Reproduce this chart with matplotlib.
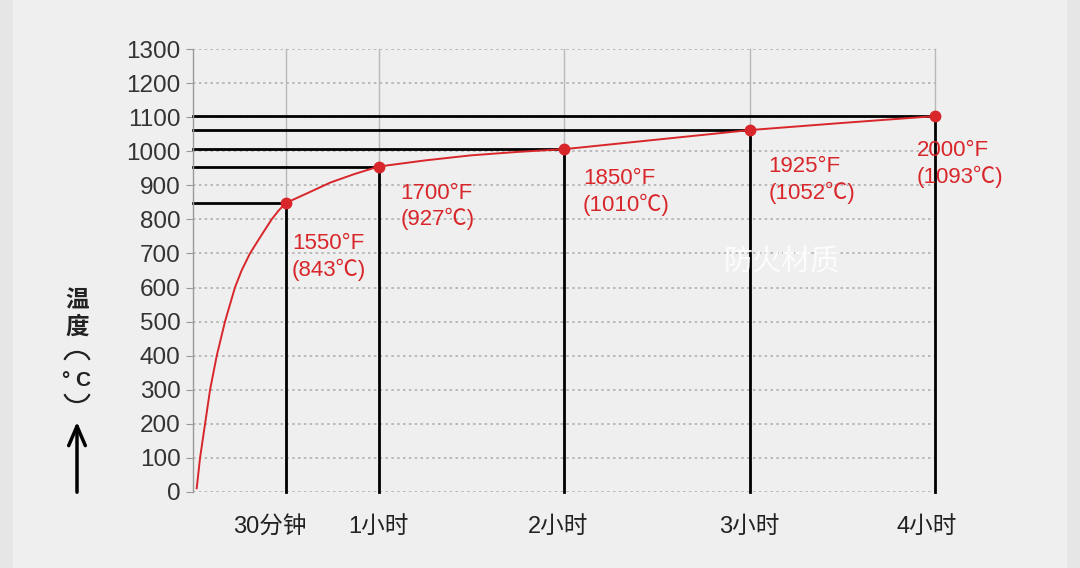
import matplotlib

matplotlib.use("Agg")
import matplotlib.pyplot as plt
from matplotlib.patches import Rectangle, FancyArrowPatch, Arc
from matplotlib.transforms import ScaledTranslation

plt.rcParams["font.family"] = ["Liberation Sans", "Noto Sans CJK SC", "DejaVu Sans"]

# curve: time (h) vs temperature (°C)
curve_t = [0.020, 0.038, 0.065, 0.092, 0.128, 0.1725, 0.226, 0.262, 0.307, 0.367,
           0.424, 0.46, 0.5, 0.613, 0.74, 0.87, 1.0, 1.25, 1.5, 1.75, 2.0, 2.5, 3.0,
           3.5, 4.0]
curve_T = [11, 100, 200, 300, 400, 500, 600, 650, 700, 752,
           800, 825, 848, 876, 908, 933, 955, 973, 988, 998, 1006, 1034, 1062,
           1083, 1103]

# marked points
pt_t = [0.5, 1, 2, 3, 4]
pt_T = [848, 955, 1006, 1062, 1103]
pt_labels = ["1550°F\n(843℃)", "1700°F\n(927℃)", "1850°F\n(1010℃)",
             "1925°F\n(1052℃)", "2000°F\n(1093℃)"]
x_labels = ["30分钟", "1小时", "2小时", "3小时", "4小时"]
y_ticks = list(range(0, 1301, 100))

RED = "#d8262a"

fig = plt.figure(figsize=(10.8, 5.68), dpi=100, facecolor="#e6e6e6")
fig.patches.append(Rectangle((13 / 1080, 0), 1054 / 1080, 1, transform=fig.transFigure,
                             facecolor="#efefef", edgecolor="none", zorder=-5))
ax = fig.add_axes([193 / 1080, 76 / 568, 742 / 1080, 443 / 568])
ax.set_facecolor("none")
ax.set_xlim(0, 4); ax.set_ylim(0, 1300)

# dotted horizontal grid and thin vertical grid
for y in y_ticks:
    ax.axhline(y, color="#b0b0b0", lw=1.2, ls=(0, (1.5, 2)), zorder=1)
for x in pt_t:
    ax.axvline(x, color="#b8b8b8", lw=1.0, zorder=1, clip_on=False)

# black guide lines
for x, y in zip(pt_t, pt_T):
    ax.plot([x, x], [0, y], color="black", lw=2.0, zorder=2, clip_on=False)
    ax.plot([0, x], [y, y], color="black", lw=2.0, zorder=2, clip_on=False)

ax.plot(curve_t, curve_T, color=RED, lw=1.4, zorder=3, clip_on=False)
ax.plot(pt_t, pt_T, "o", color=RED, ms=7.5, zorder=4, clip_on=False)

offsets = [(6, -30), (22, -16), (19, -19), (19, -26), (-18, -24)]
for x, y, s, (dx, dy) in zip(pt_t, pt_T, pt_labels, offsets):
    ax.annotate(s, (x, y), xytext=(dx, dy), textcoords="offset pixels",
                color=RED, fontsize=16, ha="left", va="top", linespacing=1.25, zorder=5)

for s in ["top", "right", "bottom"]:
    ax.spines[s].set_visible(False)
ax.spines["left"].set_color("#999999")
ax.spines["left"].set_linewidth(1.0)

ax.set_yticks(y_ticks)
ax.set_yticklabels([str(v) for v in y_ticks], fontsize=17.5, color="#333333")
ax.tick_params(axis="y", length=5, color="#999999", pad=4)
ax.set_xticks(pt_t)
ax.set_xticklabels(x_labels, fontsize=17, color="#222222")
ax.tick_params(axis="x", length=0, pad=17)
for lbl, dx in zip(ax.get_xticklabels(), [-16, 0, -6, 0, -8]):
    lbl.set_transform(lbl.get_transform() + ScaledTranslation(dx / 100, 0, fig.dpi_scale_trans))

# vertical y-axis label with arrow
X0 = 77 / 1080
for ch, yp in zip(["温", "度"], [300, 327]):
    fig.text(X0, 1 - yp / 568, ch, fontsize=17, color="#222222", weight="bold",
             ha="center", va="center", family=["Noto Sans CJK SC", "DejaVu Sans"])
fig.patches.append(Arc((X0, 1 - 363 / 568), 26 / 1080, 22 / 568, theta1=25, theta2=155,
                       transform=fig.transFigure, color="#222222", lw=1.6))
fig.patches.append(Arc((X0, 1 - 391 / 568), 26 / 1080, 22 / 568, theta1=205, theta2=335,
                       transform=fig.transFigure, color="#222222", lw=1.6))
fig.text(X0, 1 - 381 / 568, "° C", fontsize=15, color="#222222", weight="bold",
         ha="center", va="center")
fig.patches.append(FancyArrowPatch(
    (X0, 1 - 495 / 568), (X0, 1 - 419 / 568), transform=fig.transFigure,
    arrowstyle="->,head_length=14,head_width=6", color="black", lw=2.5,
    mutation_scale=1))

# watermark
fig.text(782 / 1080, 1 - 262 / 568, "防火材质", fontsize=21, color="white", alpha=0.85,
         ha="center", va="center", family=["Noto Sans CJK SC"])

fig.savefig("out.png", dpi=100, facecolor=fig.get_facecolor())
